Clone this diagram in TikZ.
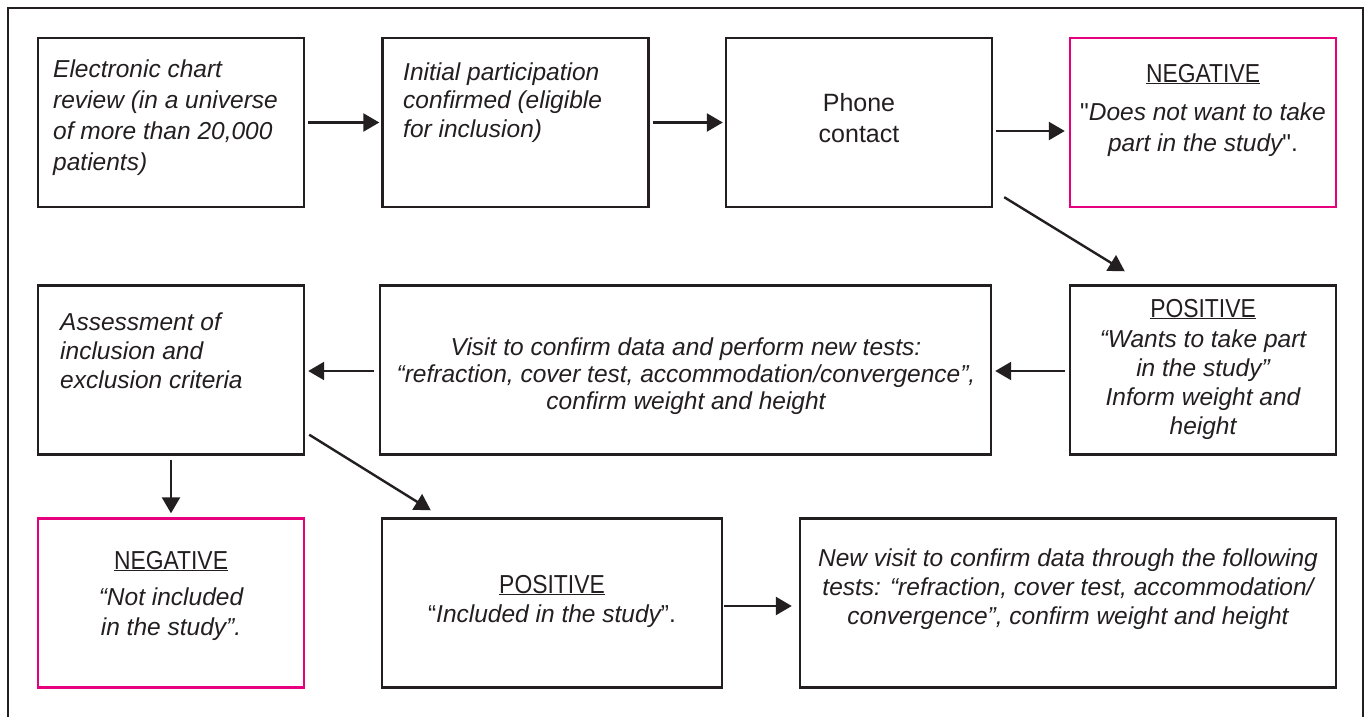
\documentclass[tikz,border=0pt]{standalone}
\usepackage{fontspec}
\setmainfont{Liberation Sans}
\newfontfamily\headfont{Liberation Sans}[FakeStretch=0.88]
\newfontfamily\plainq{Liberation Sans}[Ligatures=TeXOff]
\usetikzlibrary{arrows.meta}
\definecolor{ink}{RGB}{35,31,32}
\definecolor{mag}{RGB}{230,0,126}
\newcommand{\fstrut}{\rule{0pt}{18.8pt}}
\newcommand{\hd}[1]{{\headfont\upshape\fontsize{26}{31}\selectfont\underline{#1}}}
\newcommand{\sq}{{\plainq\upshape"}}
\begin{document}
\begin{tikzpicture}[x=1pt,y=-1pt,
  box/.style={draw=ink,line width=2.4pt,inner sep=0pt,minimum width=266pt,minimum height=169pt},
  negbox/.style={box,draw=mag},
  txt/.style={inner sep=0pt,text=ink,font=\fontsize{24.5}{#1}\selectfont\itshape},
  arr/.style={draw=ink,line width=2.4pt,-{Triangle[length=16pt,width=18pt]}},
  frame/.style={draw=ink,line width=2.5pt}]
\useasboundingbox (0,0) rectangle (1370,717);
\fill[white] (0,0) rectangle (1370,717);
\draw[frame] (8,720) -- (8,8) -- (1363,8) -- (1363,720);

% row 1
\node[box] (b1) at (171,122.5) {};
\node[box] (b2) at (515.5,122.5) {};
\node[box] (b3) at (859,122.5) {};
\node[negbox] (b4) at (1203,122.5) {};
% row 2
\node[box] (ass) at (171,370) {};
\node[box,minimum width=611pt] (vis) at (685.5,370) {};
\node[box] (pos1) at (1203,370) {};
% row 3
\node[negbox] (neg2) at (171,603) {};
\node[box,minimum width=340pt] (pos2) at (552,603) {};
\node[box,minimum width=536pt] (nvis) at (1068,603) {};

% texts
\node[txt=31,anchor=north west,align=left] (t1) at (53,58)
  {\fstrut Electronic chart\\review (in a universe\\of more than 20,000\\patients)};
\node[txt=28.5,anchor=north west,align=left] (t2) at (403,61)
  {\fstrut Initial participation\\confirmed (eligible\\for inclusion)};
\node[txt=31,anchor=north,align=center,font=\fontsize{25}{31}\selectfont\upshape] (t3) at (859,92.5)
  {\fstrut Phone\\contact};
\node[txt=31,anchor=north,align=center] (t4) at (1203,63)
  {\fstrut\hd{NEGATIVE}\\[7pt]\sq Does not want to take\\part in the study\sq{\upshape.}};
\node[txt=29,anchor=north,align=center] (t5) at (1203,298)
  {\fstrut\hd{POSITIVE}\\[1pt]“Wants to take part\\in the study”\\Inform weight and\\height};
\node[txt=27,anchor=north,align=center] (t6) at (686,336)
  {\fstrut Visit to confirm data and perform new tests:\\“refraction, cover test, accommodation/convergence”,\\confirm weight and height};
\node[txt=29,anchor=north west,align=left] (t7) at (60,311.5)
  {\fstrut Assessment of\\inclusion and\\exclusion criteria};
\node[txt=30,anchor=north,align=center] (t8) at (171,550)
  {\fstrut\hd{NEGATIVE}\\[6pt]“Not included\\in the study”.};
\node[txt=29,anchor=north,align=center] (t9) at (552,574)
  {\fstrut\hd{POSITIVE}\\{\upshape“}Included in the study{\upshape”.}};
\node[txt=29,anchor=north,align=center] (t10) at (1068,547)
  {\fstrut New visit to confirm data through the following\\tests: “refraction, cover test, accommodation/\\convergence”, confirm weight and height};

% connectors
\draw[arr] ([xshift=3pt]b1.east) -- ([xshift=-2pt]b2.west);
\draw[arr] ([xshift=3pt]b2.east) -- ([xshift=-2pt]b3.west);
\draw[arr] ([xshift=3pt,yshift=-8.5pt]b3.east) -- ([xshift=-4pt,yshift=-8.5pt]b4.west);
\coordinate (d1s) at ([xshift=11pt,yshift=11pt]b3.south east);
\coordinate (d1e) at ([xshift=56pt,yshift=13pt]pos1.north west);
\draw[arr] (d1s) -- (d1e);
\draw[arr] ([xshift=-4pt,yshift=-1pt]pos1.west) -- ([xshift=3pt,yshift=-1pt]vis.east);
\draw[arr] ([xshift=-5pt,yshift=-1pt]vis.west) -- ([xshift=3pt,yshift=-1pt]ass.east);
\draw[arr] ([yshift=-4pt]ass.south) -- ([yshift=4pt]neg2.north);
\coordinate (d2s) at ([xshift=4pt,yshift=21pt]ass.south east);
\coordinate (d2e) at ([xshift=50pt,yshift=7pt]pos2.north west);
\draw[arr] (d2s) -- (d2e);
\draw[arr] ([xshift=1pt,yshift=-3pt]pos2.east) -- ([xshift=-7pt,yshift=-3pt]nvis.west);
\end{tikzpicture}
\end{document}
